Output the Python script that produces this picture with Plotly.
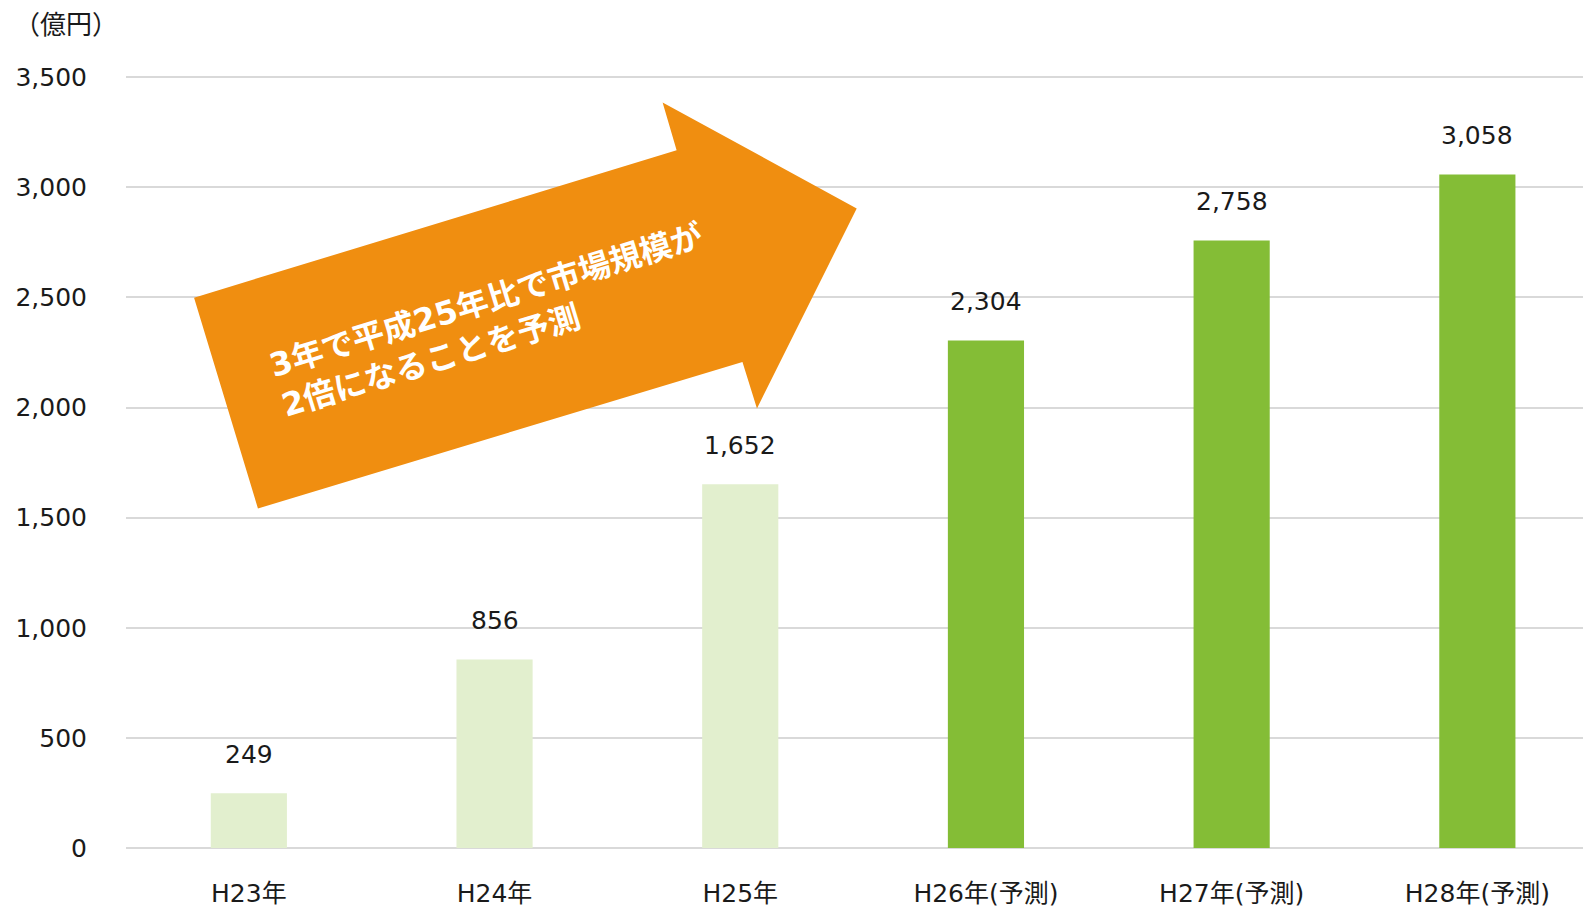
import plotly.graph_objects as go

# データ
categories = ["H23年", "H24年", "H25年", "H26年(予測)", "H27年(予測)", "H28年(予測)"]
values = [249, 856, 1652, 2304, 2758, 3058]
is_forecast = [False, False, False, True, True, True]
y_ticks = [0, 500, 1000, 1500, 2000, 2500, 3000, 3500]

# 矢印の頂点（x: カテゴリ位置, y: 億円）
arrow_x = [-0.223, 1.741, 1.684, 2.474, 2.068, 2.009, 0.037]
arrow_y = [2499, 3168, 3385, 2904, 1996, 2207, 1542]
arrow_text = "3年で平成25年比で市場規模が<br>2倍になることを予測"

FONT = "DejaVu Sans, Noto Sans CJK JP"
LIGHT = "#E2EFCE"
DARK = "#84BD36"
ORANGE = "#F08E10"
TEXT = "#1a1a1a"

xs = list(range(len(categories)))
colors = [DARK if f else LIGHT for f in is_forecast]

fig = go.Figure()

fig.add_trace(go.Bar(
    x=xs,
    y=values,
    marker=dict(color=colors, line=dict(width=0)),
    width=0.31,
    hoverinfo="x+y",
    showlegend=False,
))

for x, v in zip(xs, values):
    fig.add_annotation(
        x=x, y=v, text=f"{v:,}", showarrow=False,
        yanchor="middle", yshift=39,
        font=dict(family=FONT, size=25, color=TEXT),
    )

path = "M " + " L ".join(f"{x},{y}" for x, y in zip(arrow_x, arrow_y)) + " Z"
fig.add_shape(type="path", path=path, xref="x", yref="y",
              fillcolor=ORANGE, line=dict(width=0), layer="above")

fig.add_annotation(
    x=0.99, y=2392, text=arrow_text, showarrow=False,
    textangle=-17, align="left",
    font=dict(family=FONT, size=32, color="white", weight="bold"),
)

fig.add_annotation(
    xref="paper", yref="paper", x=-0.041, y=1.065,
    xanchor="center", yanchor="middle",
    text="（億円）", showarrow=False,
    font=dict(family=FONT, size=26, color=TEXT),
)

fig.update_layout(
    width=1583,
    height=908,
    margin=dict(l=126, r=0, t=75, b=60),
    plot_bgcolor="white",
    paper_bgcolor="white",
    font=dict(family=FONT, size=25, color=TEXT),
    xaxis=dict(
        tickmode="array", tickvals=xs, ticktext=categories,
        range=[-0.5, 5.43], showgrid=False, zeroline=False,
        ticks="", ticklabelstandoff=28,
    ),
    yaxis=dict(
        tickmode="array", tickvals=y_ticks, tickformat=",d",
        range=[0, 3510], showgrid=True, gridcolor="#D9D9D9", gridwidth=2,
        zeroline=True, zerolinecolor="#D9D9D9", zerolinewidth=2,
        ticks="", ticklabelstandoff=38,
    ),
)

fig.write_html(
    "out.html",
    config={"displayModeBar": False},
    post_script="document.body.style.margin='0';",
)
